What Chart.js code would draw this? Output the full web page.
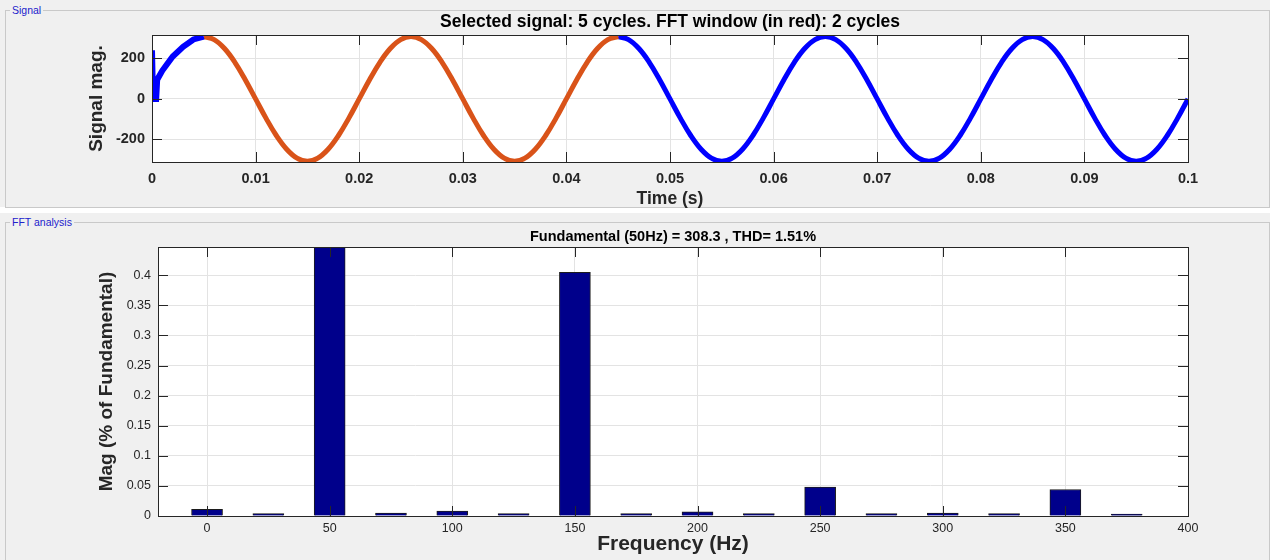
<!DOCTYPE html>
<html>
<head>
<meta charset="utf-8">
<script src="https://cdn.jsdelivr.net/npm/chart.js@4.4.1/dist/chart.umd.min.js"></script>
<style>
    body { margin: 0; width: 1270px; height: 560px; background: #ffffff; position: relative; overflow: hidden; font-family: "Liberation Sans", Arial, sans-serif; }
    .panel { position: absolute; left: 0; width: 1270px; background: #f0f0f0; }
    .box { position: absolute; border: 1px solid #c9c9c9; }
    .lbl { position: absolute; font-size: 10.5px; color: #2222cc; background: #f0f0f0; padding: 0 2px; line-height: 12px; }
    canvas { position: absolute; left: 0; }
</style>
</head>
<body>
<div class="panel" style="top:0;height:207px">
    <div class="box" style="left:5px;top:10px;width:1263px;height:196px"></div>
    <span class="lbl" style="left:10px;top:4px">Signal</span>
</div>
<div class="panel" style="top:213px;height:347px">
    <div class="box" style="left:5px;top:9px;width:1263px;height:360px"></div>
    <span class="lbl" style="left:10px;top:3px">FFT analysis</span>
</div>
<canvas id="signal-chart" width="1270" height="212" style="top:0"></canvas>
<canvas id="fft-chart" width="1270" height="348" style="top:212px"></canvas>

<script>
// Signal panel data (time in s, magnitude)
const startTime = [0, 0.0001, 0.0004, 0.0005, 0.001, 0.0015, 0.002, 0.003, 0.004, 0.005];
const startMag = [240, 0, 0, 95, 140, 175, 210, 258, 294, 308];

const windowTime = [0.005, 0.006, 0.007, 0.008, 0.009, 0.010, 0.011, 0.012, 0.013, 0.014,
    0.015, 0.016, 0.017, 0.018, 0.019, 0.020, 0.021, 0.022, 0.023, 0.024,
    0.025, 0.026, 0.027, 0.028, 0.029, 0.030, 0.031, 0.032, 0.033, 0.034,
    0.035, 0.036, 0.037, 0.038, 0.039, 0.040, 0.041, 0.042, 0.043, 0.044, 0.045];
const windowMag = [308, 293, 249, 181, 95, 0, -95, -181, -249, -293,
    -308, -293, -249, -181, -95, 0, 95, 181, 249, 293,
    308, 293, 249, 181, 95, 0, -95, -181, -249, -293,
    -308, -293, -249, -181, -95, 0, 95, 181, 249, 293, 308];

const restTime = [0.045, 0.046, 0.047, 0.048, 0.049, 0.050, 0.051, 0.052, 0.053, 0.054,
    0.055, 0.056, 0.057, 0.058, 0.059, 0.060, 0.061, 0.062, 0.063, 0.064,
    0.065, 0.066, 0.067, 0.068, 0.069, 0.070, 0.071, 0.072, 0.073, 0.074,
    0.075, 0.076, 0.077, 0.078, 0.079, 0.080, 0.081, 0.082, 0.083, 0.084,
    0.085, 0.086, 0.087, 0.088, 0.089, 0.090, 0.091, 0.092, 0.093, 0.094,
    0.095, 0.096, 0.097, 0.098, 0.099, 0.100];
const restMag = [308, 293, 249, 181, 95, 0, -95, -181, -249, -293,
    -308, -293, -249, -181, -95, 0, 95, 181, 249, 293,
    308, 293, 249, 181, 95, 0, -95, -181, -249, -293,
    -308, -293, -249, -181, -95, 0, 95, 181, 249, 293,
    308, 293, 249, 181, 95, 0, -95, -181, -249, -293,
    -308, -293, -249, -181, -95, 0];

const timeTicks = [0, 0.01, 0.02, 0.03, 0.04, 0.05, 0.06, 0.07, 0.08, 0.09, 0.1];
const timeTickLabels = ["0", "0.01", "0.02", "0.03", "0.04", "0.05", "0.06", "0.07", "0.08", "0.09", "0.1"];
const signalTicks = [-200, 0, 200];
const signalTickLabels = ["-200", "0", "200"];

// FFT panel data
const freqHz = [0, 25, 50, 75, 100, 125, 150, 175, 200, 225, 250, 275, 300, 325, 350, 375];
const magPct = [0.011, 0.004, 100, 0.005, 0.008, 0.004, 0.405, 0.004, 0.007, 0.004, 0.048, 0.004, 0.005, 0.004, 0.044, 0.003];

const freqTicks = [0, 50, 100, 150, 200, 250, 300, 350, 400];
const freqTickLabels = ["0", "50", "100", "150", "200", "250", "300", "350", "400"];
const magTicks = [0, 0.05, 0.1, 0.15, 0.2, 0.25, 0.3, 0.35, 0.4];
const magTickLabels = ["0", "0.05", "0.1", "0.15", "0.2", "0.25", "0.3", "0.35", "0.4"];

const FONT = "'Liberation Sans', Arial, sans-serif";
const INK = "#262626";
const GRID = "#e3e3e3";

function toPoints(xs, ys) {
    return xs.map((x, i) => ({ x: x, y: ys[i] }));
}

// white plot background, box and inward ticks like a MATLAB axes
const matlabAxes = {
    id: "matlabAxes",
    beforeDraw(chart) {
        const a = chart.chartArea;
        const c = chart.ctx;
        c.save();
        c.fillStyle = "#ffffff";
        c.fillRect(a.left, a.top, a.right - a.left, a.bottom - a.top);
        c.restore();
    },
    afterDraw(chart) {
        const a = chart.chartArea;
        const c = chart.ctx;
        const len = 10;
        c.save();
        c.strokeStyle = INK;
        c.lineWidth = 1;
        c.beginPath();
        chart.scales.x.ticks.forEach(t => {
            const px = Math.round(chart.scales.x.getPixelForValue(t.value)) + 0.5;
            c.moveTo(px, a.bottom); c.lineTo(px, a.bottom - len);
            c.moveTo(px, a.top); c.lineTo(px, a.top + len);
        });
        chart.scales.y.ticks.forEach(t => {
            const py = Math.round(chart.scales.y.getPixelForValue(t.value)) + 0.5;
            c.moveTo(a.left, py); c.lineTo(a.left + len, py);
            c.moveTo(a.right, py); c.lineTo(a.right - len, py);
        });
        c.stroke();
        c.strokeRect(Math.round(a.left) + 0.5, Math.round(a.top) + 0.5,
            Math.round(a.right - a.left), Math.round(a.bottom - a.top));
        c.restore();
    }
};

function setTicks(values) {
    return scale => { scale.ticks = values.map(v => ({ value: v })); };
}

// Signal chart
new Chart(document.getElementById("signal-chart"), {
    type: "line",
    data: {
        datasets: [
            {
                data: toPoints(startTime, startMag),
                borderColor: "#0000ff",
                borderWidth: 6,
                tension: 0,
                pointRadius: 0,
            },
            {
                data: toPoints(windowTime, windowMag),
                borderColor: "#d95319",
                borderWidth: 5,
                tension: 0.4,
                pointRadius: 0,
            },
            {
                data: toPoints(restTime, restMag),
                borderColor: "#0000ff",
                borderWidth: 5,
                tension: 0.4,
                pointRadius: 0,
            },
        ],
    },
    options: {
        responsive: false,
        animation: false,
        layout: { padding: { left: 0, right: 82, top: 0, bottom: 0 } },
        plugins: {
            legend: { display: false },
            tooltip: { enabled: false },
            title: {
                display: true,
                fullSize: false,
                text: "Selected signal: 5 cycles. FFT window (in red): 2 cycles",
                color: "#000000",
                font: { family: FONT, size: 17.5, weight: "bold" },
                padding: { top: 11.5, bottom: 2.5 },
            },
        },
        scales: {
            x: {
                type: "linear",
                min: 0,
                max: 0.1,
                afterBuildTicks: setTicks(timeTicks),
                afterFit: scale => { scale.height = 50; },
                grid: { color: GRID, drawTicks: false },
                border: { display: false },
                ticks: {
                    autoSkip: false,
                    maxRotation: 0,
                    padding: 8.3,
                    color: INK,
                    font: { family: FONT, size: 14.5, weight: "bold" },
                    callback: (v, i) => timeTickLabels[i],
                },
                title: {
                    display: true,
                    text: "Time (s)",
                    color: INK,
                    font: { family: FONT, size: 17.5, weight: "bold" },
                    padding: { top: 0, bottom: 2.5 },
                },
            },
            y: {
                min: -312,
                max: 316,
                afterBuildTicks: setTicks(signalTicks),
                afterFit: scale => { scale.width = 152; },
                grid: { color: GRID, drawTicks: false },
                border: { display: false },
                ticks: {
                    padding: 7,
                    color: INK,
                    font: { family: FONT, size: 14.5, weight: "bold" },
                    callback: (v, i) => signalTickLabels[i],
                },
                title: {
                    display: true,
                    text: "Signal mag.",
                    color: INK,
                    font: { family: FONT, size: 19, weight: "bold" },
                    padding: { top: 85.6, bottom: 0 },
                },
            },
        },
    },
    plugins: [matlabAxes],
});

// FFT chart
new Chart(document.getElementById("fft-chart"), {
    type: "bar",
    data: {
        datasets: [
            {
                data: toPoints(freqHz, magPct),
                backgroundColor: "#00008b",
                borderColor: "#1c1c1c",
                borderWidth: 1,
                barThickness: 31,
            },
        ],
    },
    options: {
        responsive: false,
        animation: false,
        layout: { padding: { left: 0, right: 82, top: 0, bottom: 0 } },
        plugins: {
            legend: { display: false },
            tooltip: { enabled: false },
            title: {
                display: true,
                fullSize: false,
                text: "Fundamental (50Hz) = 308.3 , THD= 1.51%",
                color: "#000000",
                font: { family: FONT, size: 14.5, weight: "bold" },
                padding: { top: 16.3, bottom: 1.3 },
            },
        },
        scales: {
            x: {
                type: "linear",
                min: -20,
                max: 400,
                afterBuildTicks: setTicks(freqTicks),
                afterFit: scale => { scale.height = 44; },
                grid: { color: GRID, drawTicks: false, offset: false },
                border: { display: false },
                offset: false,
                ticks: {
                    autoSkip: false,
                    maxRotation: 0,
                    padding: 5.2,
                    color: INK,
                    font: { family: FONT, size: 12.5 },
                    callback: (v, i) => freqTickLabels[i],
                },
                title: {
                    display: true,
                    text: "Frequency (Hz)",
                    color: INK,
                    font: { family: FONT, size: 21, weight: "bold" },
                    padding: { top: 0, bottom: 3.6 },
                },
            },
            y: {
                min: 0,
                max: 0.447,
                afterBuildTicks: setTicks(magTicks),
                afterFit: scale => { scale.width = 158; },
                grid: { color: GRID, drawTicks: false },
                border: { display: false },
                ticks: {
                    padding: 7,
                    color: INK,
                    font: { family: FONT, size: 12.5 },
                    callback: (v, i) => magTickLabels[i],
                },
                title: {
                    display: true,
                    text: "Mag (% of Fundamental)",
                    color: INK,
                    font: { family: FONT, size: 19, weight: "bold" },
                    padding: { top: 95.8, bottom: 0 },
                },
            },
        },
    },
    plugins: [matlabAxes],
});
</script>
</body>
</html>
